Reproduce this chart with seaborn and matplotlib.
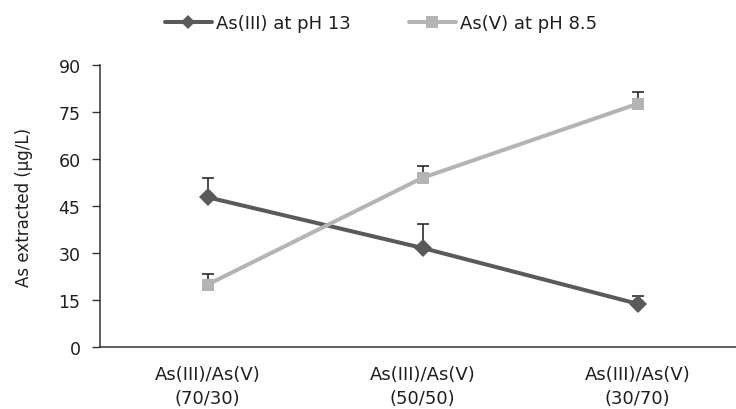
import matplotlib
matplotlib.use("Agg")
import matplotlib.pyplot as plt
import numpy as np
import pandas as pd
import seaborn as sns

# Extraction ratios on the x axis
categories = ["As(III)/As(V)\n(70/30)", "As(III)/As(V)\n(50/50)", "As(III)/As(V)\n(30/70)"]

# Arsenic extracted (µg/L) and upper error bar lengths
as3_values = [47.8, 31.6, 13.8]
as3_errors = [6.2, 7.6, 2.6]
as5_values = [19.9, 54.0, 77.6]
as5_errors = [3.4, 3.8, 3.8]

series_names = ["As(III) at pH 13", "As(V) at pH 8.5"]
y_ticks = [0, 15, 30, 45, 60, 75, 90]

colors = {"As(III) at pH 13": "#5a5a5a", "As(V) at pH 8.5": "#b4b4b4"}
markers = {"As(III) at pH 13": "D", "As(V) at pH 8.5": "s"}

sns.set_style("white")
plt.rcParams["font.family"] = ["DejaVu Sans"]

x_pos = np.arange(len(categories))
df = pd.DataFrame({
    "pos": np.concatenate([x_pos, x_pos]),
    "value": as3_values + as5_values,
    "series": [series_names[0]] * 3 + [series_names[1]] * 3,
})

fig = plt.figure(figsize=(7.36, 4.10), dpi=100)
ax = fig.add_axes([100 / 736, 1 - 348 / 410, 636 / 736, (348 - 66) / 410])

# Upper-only error bars, drawn beneath the lines
for vals, errs in [(as3_values, as3_errors), (as5_values, as5_errors)]:
    ax.errorbar(x_pos, vals, yerr=[np.zeros(len(errs)), errs], fmt="none",
                ecolor="#1a1a1a", elinewidth=1.1, capsize=4, capthick=1.1, zorder=1)

sns.lineplot(data=df, x="pos", y="value", hue="series", style="series",
             palette=colors, markers=markers, dashes=False, linewidth=2.9,
             markersize=9, markeredgewidth=0, ax=ax, legend=False, zorder=3)

text_color = "#1f1f1f"
ax.set_xlim(-0.5, -0.5 + 636 / 215)
ax.set_ylim(0, 90)
ax.set_yticks(y_ticks)
ax.set_xticks(x_pos)
ax.set_xticklabels(categories, fontsize=13, color=text_color, linespacing=1.4)
ax.set_xticks([-0.5, 0.5, 1.5], minor=True)
ax.tick_params(axis="x", which="major", length=0, pad=13)
ax.tick_params(axis="x", which="minor", length=6, width=1, color="#333333", direction="out")
ax.tick_params(axis="y", length=6, width=1, color="#333333", direction="out",
               labelsize=12.5, labelcolor=text_color, pad=8, left=True)
ax.set_xlabel("")
ax.set_ylabel("As extracted (µg/L)", fontsize=12, color=text_color, labelpad=18)

for side in ["top", "right"]:
    ax.spines[side].set_visible(False)
for side in ["left", "bottom"]:
    ax.spines[side].set_color("#333333")
    ax.spines[side].set_linewidth(1.1)

handles = [
    plt.Line2D([], [], color=colors[n], marker=markers[n], linewidth=2.9,
               markersize=9 if markers[n] == "s" else 7, markeredgewidth=0)
    for n in series_names
]
fig.legend(handles, series_names, loc="center", bbox_to_anchor=(381 / 736, 1 - 24 / 410),
           ncol=2, frameon=False, fontsize=13, handlelength=2.6, handletextpad=0.25,
           columnspacing=3.2, labelcolor=text_color)

fig.savefig("out.png", dpi=100)
